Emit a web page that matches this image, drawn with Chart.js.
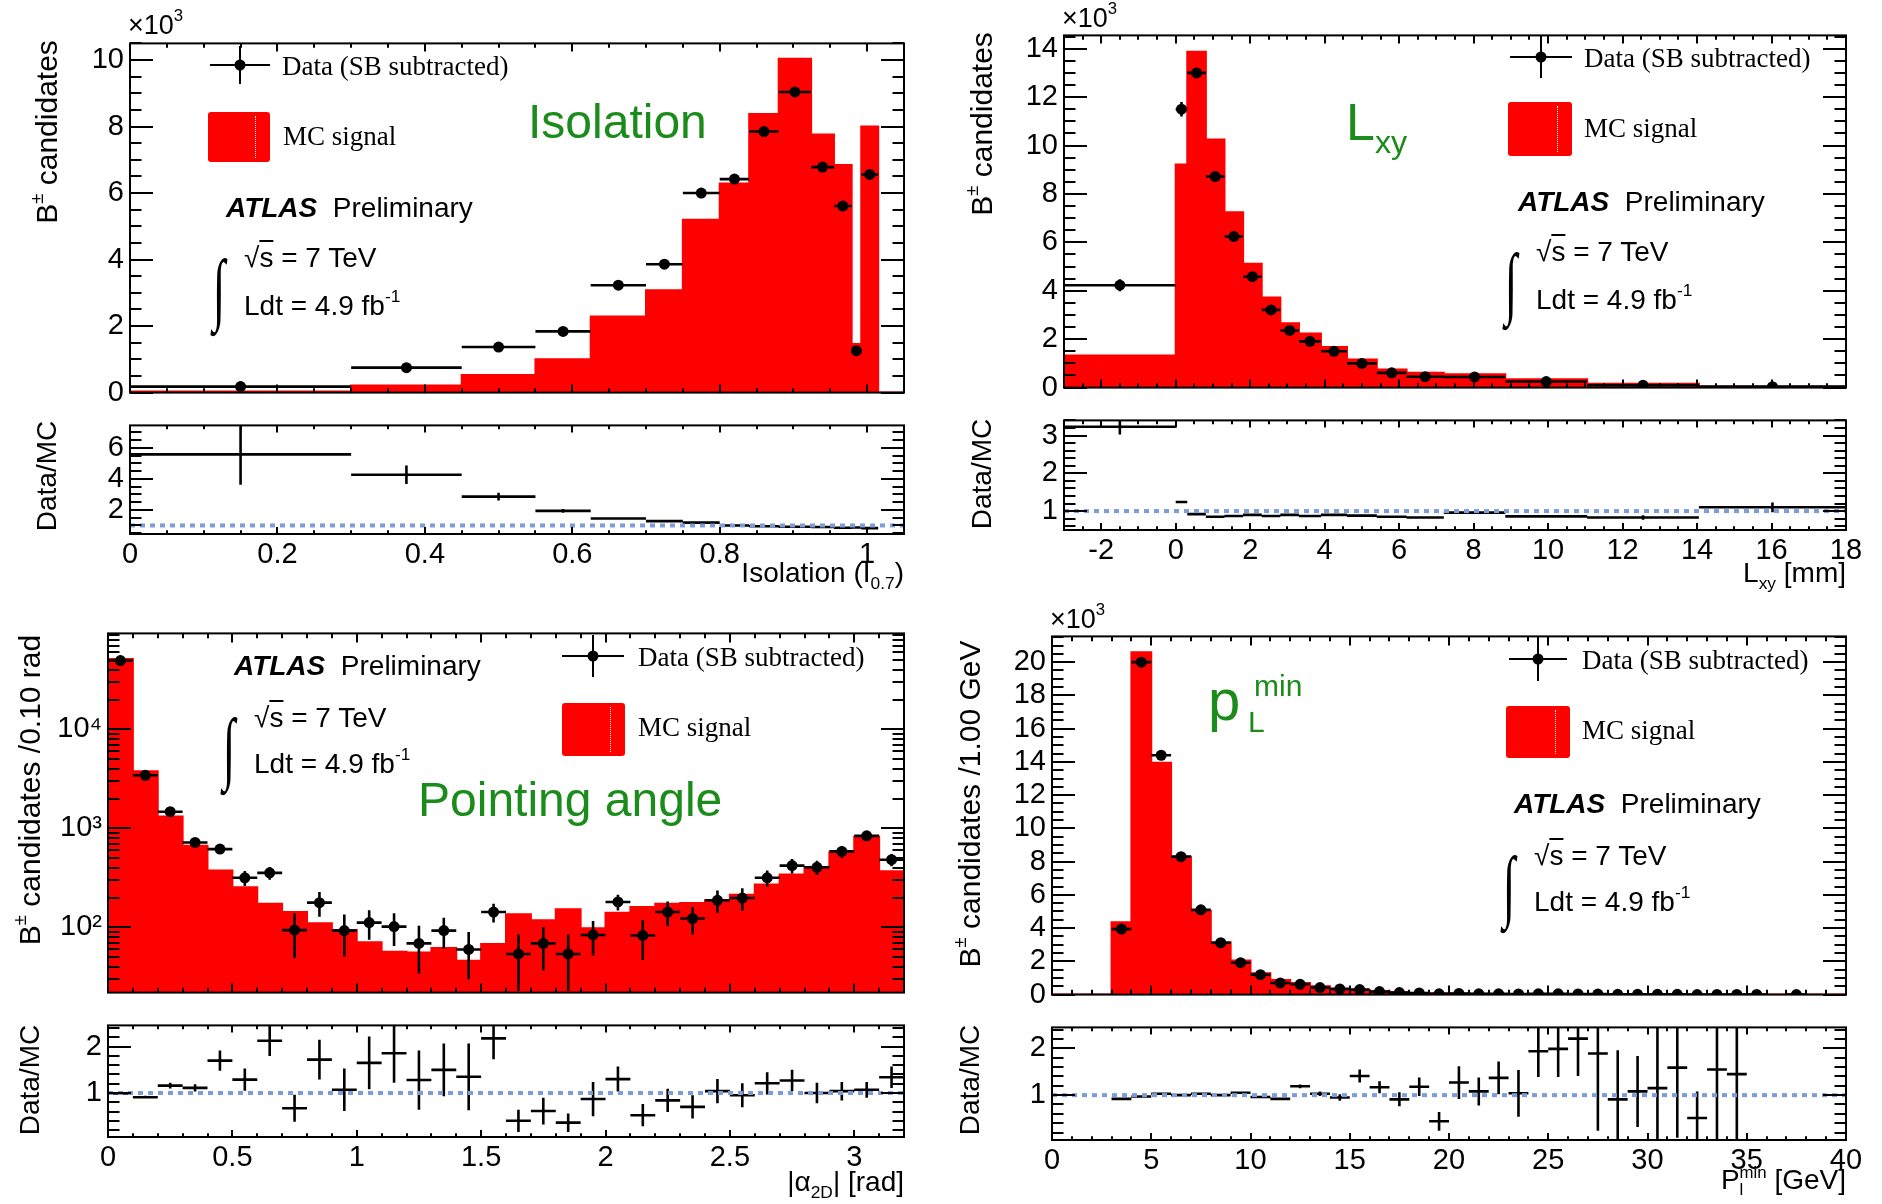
<!DOCTYPE html>
<html>
<head>
<meta charset="utf-8">
<title>B+ candidates - isolation, Lxy, pointing angle, pL min</title>
<script src="https://cdn.jsdelivr.net/npm/chart.js@4.4.1/dist/chart.umd.min.js"></script>
<style>
  html, body { margin: 0; padding: 0; background: #fff; }
  #page { position: relative; width: 1882px; height: 1204px; overflow: hidden; font-family: "Liberation Sans", Arial, sans-serif; }
  #page canvas { position: absolute; }
  .t { position: absolute; white-space: nowrap; line-height: 1; color: #000; transform: translateY(-50%); }
  .t.r { transform: translate(-100%, -50%); }
  .t.rot { transform: translate(-50%, -50%) rotate(-90deg); }
  .serif { font-family: "Liberation Serif", "Times New Roman", serif; }
  .green { color: #1b8c1b; }
  sup { font-size: 0.62em; vertical-align: 0.75em; line-height: 0; }
  sub { font-size: 0.62em; vertical-align: -0.4em; line-height: 0; }
  .ss { display: inline-flex; flex-direction: column; font-size: 0.6em; line-height: 1; vertical-align: middle; }
  .box { position: absolute; background: #ff0000; border-radius: 3px; }
  .box::after { content: ""; position: absolute; top: 4px; bottom: 4px; right: 22%; border-left: 1px dotted #fff; }
  .bar { position: absolute; background: #000; }
  .dot { position: absolute; width: 11px; height: 11px; border-radius: 50%; background: #000; transform: translate(-50%, -50%); }
</style>
</head>
<body>
<div id="page"></div>
<script>
// ---- Isolation (values in units of 10^3)
const isoEdges = [0, 0.30, 0.45, 0.55, 0.625, 0.70, 0.75, 0.80, 0.84, 0.88, 0.924, 0.955, 0.979, 0.992, 1.015, 1.05];
const isoMC = [0.03, 0.21, 0.53, 1.0, 2.29, 3.08, 5.2, 6.29, 8.38, 10.04, 7.76, 6.84, 1.46, 8.0, 0];
const isoData = [0.18, 0.75, 1.37, 1.84, 3.23, 3.86, 6.0, 6.42, 7.85, 9.04, 6.78, 5.61, 1.26, 6.56];
const isoDataErr = [0.05, 0.07, 0.08, 0.09, 0.1, 0.1, 0.1, 0.1, 0.11, 0.11, 0.1, 0.1, 0.06, 0.1];
const isoRatio = [5.58, 4.27, 2.86, 1.94, 1.45, 1.28, 1.18, 1.0, 0.95, 0.92, 0.9, 0.85, 0.87, 0.83];
const isoRatioErr = [1.95, 0.6, 0.25, 0.12, 0.06, 0.05, 0.04, 0.03, 0.03, 0.03, 0.03, 0.03, 0.05, 0.03];

// ---- Lxy [mm] (values in units of 10^3)
const lxyEdges = [-3, 0, 0.31, 0.81, 1.31, 1.81, 2.31, 2.81, 3.31, 3.9, 4.6, 5.4, 6.2, 7.2, 8.85, 11.05, 14.05, 18];
const lxyMC = [1.33, 9.22, 13.87, 10.25, 7.24, 5.12, 3.72, 2.66, 2.23, 1.68, 1.16, 0.75, 0.61, 0.55, 0.34, 0.16, 0.04];
const lxyData = [4.23, 11.5, 13.0, 8.72, 6.24, 4.58, 3.21, 2.36, 1.91, 1.5, 1.0, 0.61, 0.45, 0.44, 0.25, 0.10, 0.04];
const lxyDataErr = [0.25, 0.3, 0.15, 0.12, 0.1, 0.1, 0.08, 0.07, 0.06, 0.05, 0.05, 0.04, 0.04, 0.03, 0.03, 0.02, 0.02];
const lxyRatio = [3.23, 1.24, 0.92, 0.85, 0.87, 0.9, 0.87, 0.9, 0.87, 0.9, 0.88, 0.85, 0.83, 0.96, 0.86, 0.83, 1.1];
const lxyRatioErr = [0.2, 0.02, 0.02, 0.01, 0.01, 0.01, 0.01, 0.01, 0.01, 0.01, 0.01, 0.02, 0.02, 0.02, 0.03, 0.06, 0.13];

// ---- Pointing angle |alpha_2D| [rad] (candidates / 0.10 rad)
const angEdges = [0, 0.1, 0.2, 0.3, 0.4, 0.5, 0.6, 0.7, 0.8, 0.9, 1.0, 1.1, 1.2, 1.3, 1.4, 1.5, 1.6,
                  1.7, 1.8, 1.9, 2.0, 2.1, 2.2, 2.3, 2.4, 2.5, 2.6, 2.7, 2.8, 2.9, 3.0, 3.1, 3.2];
const angMC = [51400, 3770, 1315, 668, 375, 255, 174, 143, 110, 94, 71, 57, 56, 62, 46, 68,
               136, 118, 153, 98, 141, 161, 174, 177, 188, 214, 272, 342, 405, 573, 822, 370];
const angData = [49500, 3435, 1475, 721, 618, 317, 356, 94, 178, 93, 112, 102, 69, 93, 60, 143,
                 54, 69, 54, 84, 181, 83, 143, 123, 188, 198, 317, 421, 405, 586, 841, 483];
const angDataErr = [400, 110, 70, 50, 50, 55, 52, 45, 50, 42, 37, 37, 35, 32, 30, 31,
                    31, 32, 31, 32, 33, 36, 40, 38, 48, 51, 58, 70, 67, 80, 80, 67];
const angRatio = [0.99, 0.91, 1.16, 1.11, 1.70, 1.29, 2.13, 0.67, 1.72, 1.07, 1.65, 1.86, 1.28, 1.50, 1.35, 2.18,
                  0.40, 0.61, 0.36, 0.87, 1.30, 0.52, 0.84, 0.70, 1.04, 0.95, 1.21, 1.27, 1.0, 1.04, 1.07, 1.34];
const angRatioErr = [0.01, 0.03, 0.06, 0.08, 0.22, 0.24, 0.33, 0.29, 0.43, 0.46, 0.57, 0.64, 0.64, 0.57, 0.72, 0.45,
                     0.24, 0.29, 0.2, 0.37, 0.27, 0.24, 0.25, 0.25, 0.26, 0.26, 0.24, 0.23, 0.22, 0.2, 0.17, 0.23];

// ---- pL min [GeV] (values in units of 10^3 / 1.00 GeV)
const plEdges = [0, 3, 4, 5, 6, 7, 8, 9, 10, 11, 12, 13, 14, 15, 16, 17, 18, 19, 20, 21, 22, 23, 24,
                 25, 26, 27, 28, 29, 30, 31, 32, 33, 34, 35, 36, 40];
const plMC = [0, 4.35, 20.6, 13.95, 8.3, 5.03, 3.15, 2.05, 1.28, 0.88, 0.70, 0.50, 0.36, 0.28, 0.20, 0.14,
              0.10, 0.08, 0.06, 0.05, 0.04, 0.035, 0.03, 0.025, 0.02, 0.018, 0.015, 0.012, 0.01, 0.009,
              0.008, 0.007, 0.006, 0.005, 0.003];
const plDataX = [3.5, 4.5, 5.5, 6.5, 7.5, 8.5, 9.5, 10.5, 11.5, 12.5, 13.5, 14.5, 15.5, 16.5, 17.5, 18.5, 19.5,
                 20.5, 21.5, 22.5, 23.5, 24.5, 25.5, 26.5, 27.5, 28.5, 29.5, 30.5, 31.5, 32.5, 33.5, 34.5, 35.5, 37.5];
const plData = [3.94, 20.0, 14.4, 8.3, 5.1, 3.12, 1.92, 1.2, 0.7, 0.62, 0.42, 0.34, 0.3, 0.18, 0.12, 0.1, 0.05,
                0.07, 0.05, 0.05, 0.04, 0.05, 0.05, 0.04, 0.03, 0.02, 0.02, 0.02, 0.015, 0.005, 0.01, 0.01, 0.008, 0.005];
const plDataErr = [0.1, 0.18, 0.15, 0.12, 0.1, 0.08, 0.06, 0.05, 0.04, 0.04, 0.03, 0.03, 0.03, 0.02, 0.02, 0.02, 0.02,
                   0.02, 0.02, 0.02, 0.02, 0.02, 0.02, 0.02, 0.02, 0.02, 0.02, 0.02, 0.02, 0.02, 0.02, 0.02, 0.02, 0.02];
const plRatioX = plDataX.slice(0, 32);
const plRatio = [0.92, 0.97, 1.03, 1.0, 1.03, 1.0, 1.05, 0.96, 0.92, 1.19, 1.03, 0.95, 1.41, 1.17, 0.91, 1.18,
                 0.44, 1.27, 1.08, 1.37, 1.04, 1.94, 1.99, 2.21, 1.89, 0.91, 1.08, 1.15, 1.59, 0.51, 1.55, 1.45];
const plRatioErr = [0.02, 0.01, 0.01, 0.01, 0.01, 0.01, 0.02, 0.02, 0.03, 0.04, 0.05, 0.07, 0.14, 0.13, 0.15, 0.2,
                    0.2, 0.35, 0.3, 0.35, 0.5, 0.55, 0.6, 0.8, 1.65, 1.05, 0.76, 1.5, 1.5, 0.57, 1.6, 1.5];

// ---------------------------------------------------------------------------
const page = document.getElementById('page');
// canvas margins around each frame; large enough that Chart.js does not pad the plot area further
const ML = 110, MR = 26, MT = 22, MB_MAIN = 22, MB_RATIO = 50;
const RED = '#ff0000', DOTBLUE = '#7d9dd9';
const TICK_FONT = { size: 29 };
Chart.defaults.font.family = '"Liberation Sans", Arial, sans-serif';
Chart.defaults.color = '#000';

// ROOT-like frame with inward ticks on all four sides
function linTicks(min, max, step, sub) {
  const out = [], m = step / sub;
  for (let k = Math.ceil(min / m - 1e-9); k * m <= max + 1e-9; k++) out.push([k * m, k % sub === 0]);
  return out;
}
function logTicks(min, max) {
  const out = [];
  for (let d = Math.floor(Math.log10(min)); d <= Math.ceil(Math.log10(max)); d++) {
    for (let m = 1; m < 10; m++) {
      const v = m * Math.pow(10, d);
      if (v >= min && v <= max) out.push([v, m === 1]);
    }
  }
  return out;
}
const rootAxes = {
  id: 'rootAxes',
  afterDraw(chart, args, o) {
    const { ctx, chartArea: a } = chart;
    const sx = chart.scales.x, sy = chart.scales.y;
    ctx.save();
    ctx.strokeStyle = '#000';
    ctx.lineWidth = 2;
    ctx.beginPath();
    for (const [v, major] of linTicks(sx.min, sx.max, o.xStep, o.xSub)) {
      const p = Math.round(sx.getPixelForValue(v));
      const len = major ? o.xLen : o.xLen * 0.55;
      ctx.moveTo(p, a.bottom); ctx.lineTo(p, a.bottom - len);
      ctx.moveTo(p, a.top); ctx.lineTo(p, a.top + len);
    }
    const yt = o.log ? logTicks(sy.min, sy.max) : linTicks(sy.min, sy.max, o.yStep, o.ySub);
    for (const [v, major] of yt) {
      const p = Math.round(sy.getPixelForValue(v));
      const len = major ? o.yLen : o.yLen * 0.5;
      ctx.moveTo(a.left, p); ctx.lineTo(a.left + len, p);
      ctx.moveTo(a.right, p); ctx.lineTo(a.right - len, p);
    }
    ctx.stroke();
    ctx.strokeRect(a.left, a.top, a.right - a.left, a.bottom - a.top);
    ctx.restore();
  }
};

// histogram outline: value i is held from edge i to edge i+1
function histPoints(edges, vals) {
  const pts = vals.map((v, i) => ({ x: edges[i], y: v }));
  pts.push({ x: edges[edges.length - 1], y: vals[vals.length - 1] });
  return pts;
}
function centers(edges, n) { return edges.slice(0, n).map((e, i) => (e + edges[i + 1]) / 2); }
function halves(edges, n) { return edges.slice(0, n).map((e, i) => (edges[i + 1] - e) / 2); }
function errBars(xs, hw, ys, ye) {
  const out = [];
  xs.forEach((x, i) => {
    out.push({ x: x - hw[i], y: ys[i] }, { x: x + hw[i], y: ys[i] }, { x: x, y: null });
    if (ye[i] > 0) out.push({ x: x, y: ys[i] - ye[i] }, { x: x, y: ys[i] + ye[i] }, { x: x, y: null });
  });
  return out;
}
const fmt = v => String(+Number(v).toFixed(2));

function makeCanvas(f, mb) {
  const c = document.createElement('canvas');
  const w = f.r - f.l + ML + MR, h = f.b - f.t + MT + mb;
  c.width = w; c.height = h;
  c.style.left = (f.l - ML) + 'px'; c.style.top = (f.t - MT) + 'px';
  c.style.width = w + 'px'; c.style.height = h + 'px';
  page.appendChild(c);
  return c;
}

const sup = { 2: '\u00b2', 3: '\u00b3', 4: '\u2074', 5: '\u2075' };
function drawPanel(f, cfg) {
  const mb = cfg.xLabels ? MB_RATIO : MB_MAIN;
  const canvas = makeCanvas(f, mb);
  const yTicks = { stepSize: cfg.yStep, includeBounds: false, autoSkip: false, padding: 6, font: TICK_FONT, color: '#000', callback: fmt };
  if (cfg.log) {
    yTicks.callback = v => {
      const l = Math.log10(v);
      return Math.abs(l - Math.round(l)) < 1e-9 ? '10' + sup[Math.round(l)] : '';
    };
  }
  return new Chart(canvas, {
    type: 'line',
    data: { datasets: cfg.datasets },
    options: {
      responsive: false, animation: false, devicePixelRatio: 1,
      layout: { padding: { left: 0, top: MT, right: MR, bottom: 0 } },
      plugins: { legend: { display: false }, tooltip: { enabled: false }, rootAxes: cfg.axes },
      scales: {
        x: {
          type: 'linear', min: cfg.xMin, max: cfg.xMax,
          grid: { display: false, drawTicks: false }, border: { display: false },
          ticks: { display: !!cfg.xLabels, stepSize: cfg.xStep, includeBounds: false, autoSkip: false, maxRotation: 0, padding: 4, font: TICK_FONT, color: '#000', callback: fmt },
          afterFit: s => { s.height = mb; }
        },
        y: {
          type: cfg.log ? 'logarithmic' : 'linear', min: cfg.yMin, max: cfg.yMax,
          grid: { display: false, drawTicks: false }, border: { display: false },
          ticks: yTicks,
          afterFit: s => { s.width = ML; }
        }
      }
    },
    plugins: [rootAxes]
  });
}

function mainSets(edges, mc, xs, hw, ys, ye) {
  return [
    { data: xs.map((x, i) => ({ x: x, y: ys[i] })), showLine: false, pointRadius: 5.5, pointBackgroundColor: '#000', pointBorderWidth: 0, order: 1 },
    { data: errBars(xs, hw, ys, ye), borderColor: '#000', borderWidth: 2.6, pointRadius: 0, spanGaps: false, order: 2 },
    { data: histPoints(edges, mc), stepped: 'before', borderColor: RED, borderWidth: 2, backgroundColor: RED, fill: 'start', pointRadius: 0, order: 3 }
  ];
}
function ratioSets(xMin, xMax, xs, hw, ys, ye) {
  return [
    { data: [{ x: xMin, y: 1 }, { x: xMax, y: 1 }], borderColor: DOTBLUE, borderWidth: 4, borderDash: [5, 5], pointRadius: 0, order: 1 },
    { data: errBars(xs, hw, ys, ye), borderColor: '#000', borderWidth: 2.6, pointRadius: 0, spanGaps: false, order: 2 }
  ];
}

// ---- panel frames (page pixels)
const F = {
  isoMain: { l: 130, t: 42, r: 904, b: 394 },   isoRatio: { l: 130, t: 424, r: 904, b: 534 },
  lxyMain: { l: 1064, t: 34, r: 1846, b: 389 }, lxyRatio: { l: 1064, t: 419, r: 1846, b: 530 },
  angMain: { l: 108, t: 632, r: 904, b: 994 },  angRatio: { l: 108, t: 1024, r: 904, b: 1137 },
  plMain: { l: 1052, t: 635, r: 1846, b: 996 }, plRatio: { l: 1052, t: 1026, r: 1846, b: 1140 }
};

// Isolation
const isoX = centers(isoEdges, isoData.length), isoHW = halves(isoEdges, isoData.length);
drawPanel(F.isoMain, {
  xMin: 0, xMax: 1.05, xStep: 0.2, yMin: 0, yMax: 10.5, yStep: 2,
  axes: { xStep: 0.2, xSub: 4, xLen: 8, yStep: 2, ySub: 4, yLen: 23 },
  datasets: mainSets(isoEdges, isoMC, isoX, isoHW, isoData, isoDataErr)
});
drawPanel(F.isoRatio, {
  xLabels: true, xMin: 0, xMax: 1.05, xStep: 0.2, yMin: 0.45, yMax: 7.45, yStep: 2,
  axes: { xStep: 0.2, xSub: 4, xLen: 7, yStep: 2, ySub: 4, yLen: 23 },
  datasets: ratioSets(0, 1.05, isoX, isoHW, isoRatio, isoRatioErr)
});

// Lxy
const lxyX = centers(lxyEdges, lxyData.length), lxyHW = halves(lxyEdges, lxyData.length);
drawPanel(F.lxyMain, {
  xMin: -3, xMax: 18, xStep: 2, yMin: 0, yMax: 14.55, yStep: 2,
  axes: { xStep: 2, xSub: 4, xLen: 8, yStep: 2, ySub: 4, yLen: 23 },
  datasets: mainSets(lxyEdges, lxyMC, lxyX, lxyHW, lxyData, lxyDataErr)
});
drawPanel(F.lxyRatio, {
  xLabels: true, xMin: -3, xMax: 18, xStep: 2, yMin: 0.5, yMax: 3.4, yStep: 1,
  axes: { xStep: 2, xSub: 4, xLen: 7, yStep: 1, ySub: 5, yLen: 23 },
  datasets: ratioSets(-3, 18, lxyX, lxyHW, lxyRatio, lxyRatioErr)
});

// Pointing angle
const angX = centers(angEdges, angData.length), angHW = halves(angEdges, angData.length);
drawPanel(F.angMain, {
  log: true, xMin: 0, xMax: 3.2, xStep: 0.5, yMin: 22, yMax: 93000,
  axes: { log: true, xStep: 0.5, xSub: 5, xLen: 9, yLen: 23 },
  datasets: mainSets(angEdges, angMC, angX, angHW, angData, angDataErr)
});
drawPanel(F.angRatio, {
  xLabels: true, xMin: 0, xMax: 3.2, xStep: 0.5, yMin: 0.05, yMax: 2.46, yStep: 1,
  axes: { xStep: 0.5, xSub: 5, xLen: 7, yStep: 1, ySub: 5, yLen: 23 },
  datasets: ratioSets(0, 3.2, angX, angHW, angRatio, angRatioErr)
});

// pL min
drawPanel(F.plMain, {
  xMin: 0, xMax: 40, xStep: 5, yMin: 0, yMax: 21.55, yStep: 2,
  axes: { xStep: 5, xSub: 5, xLen: 9, yStep: 2, ySub: 4, yLen: 23 },
  datasets: mainSets(plEdges, plMC, plDataX, plDataX.map(() => 0.5), plData, plDataErr)
});
drawPanel(F.plRatio, {
  xLabels: true, xMin: 0, xMax: 40, xStep: 5, yMin: 0.04, yMax: 2.45, yStep: 1,
  axes: { xStep: 5, xSub: 5, xLen: 7, yStep: 1, ySub: 5, yLen: 23 },
  datasets: ratioSets(0, 40, plRatioX, plRatioX.map(() => 0.5), plRatio, plRatioErr)
});

// ---- text and legends
function txt(html, x, y, size, cls, extra) {
  const d = document.createElement('div');
  d.className = 't ' + (cls || '');
  d.style.left = x + 'px'; d.style.top = y + 'px'; d.style.fontSize = size + 'px';
  if (extra) d.style.cssText += extra;
  d.innerHTML = html;
  page.appendChild(d);
}
function el(cls, x, y, w, h) {
  const d = document.createElement('div');
  d.className = cls;
  d.style.left = x + 'px'; d.style.top = y + 'px';
  if (w !== undefined) { d.style.width = w + 'px'; d.style.height = h + 'px'; }
  page.appendChild(d);
}
function dataKey(cx, cy, hw, hh) {
  el('bar', cx - hw, cy - 1.3, 2 * hw, 2.6);
  el('bar', cx - 1.3, cy - hh, 2.6, 2 * hh);
  el('dot', cx, cy);
}
function atlasBlock(x, y) {
  txt('<b><i>ATLAS</i></b>&nbsp; Preliminary', x, y, 28);
}
function lumiBlock(x, y1, y2) {
  txt('\u221a<span style="text-decoration:overline">s</span> = 7 TeV', x + 18, y1, 28);
  txt('Ldt = 4.9 fb<sup>-1</sup>', x + 18, y2, 28);
  txt('\u222b', x - 14, (y1 + y2) / 2 + 6, 50, 'serif', 'transform:translateY(-50%) scale(0.9,1.6);');
}

// Isolation panel
txt('\u00d710<sup>3</sup>', 128, 25, 27);
txt('B<sup>\u00b1</sup> candidates', 47, 132, 30, 'rot');
txt('Data/MC', 47, 476, 28, 'rot');
txt('Isolation (I<sub>0.7</sub>)', 904, 573, 28, 'r');
dataKey(240, 65, 30, 19);
txt('Data (SB subtracted)', 282, 66, 27, 'serif');
el('box', 208, 112, 62, 50);
txt('MC signal', 283, 136, 27, 'serif');
atlasBlock(226, 208);
lumiBlock(226, 258, 306);
txt('Isolation', 528, 122, 48, 'green');

// Lxy panel
txt('\u00d710<sup>3</sup>', 1062, 18, 27);
txt('B<sup>\u00b1</sup> candidates', 982, 124, 30, 'rot');
txt('Data/MC', 982, 474, 28, 'rot');
txt('L<sub>xy</sub> [mm]', 1846, 573, 28, 'r');
dataKey(1541, 57, 31, 21);
txt('Data (SB subtracted)', 1584, 58, 27, 'serif');
el('box', 1508, 102, 64, 54);
txt('MC signal', 1584, 128, 27, 'serif');
atlasBlock(1518, 202);
lumiBlock(1518, 252, 300);
txt('L<sub>xy</sub>', 1346, 122, 52, 'green');

// Pointing angle panel
txt('B<sup>\u00b1</sup> candidates /0.10 rad', 30, 790, 30, 'rot');
txt('Data/MC', 30, 1080, 28, 'rot');
txt('|\u03b1<sub>2D</sub>| [rad]', 904, 1182, 28, 'r');
atlasBlock(234, 666);
lumiBlock(236, 718, 764);
dataKey(593, 656, 31, 21);
txt('Data (SB subtracted)', 638, 657, 27, 'serif');
el('box', 562, 703, 63, 53);
txt('MC signal', 638, 727, 27, 'serif');
txt('Pointing angle', 418, 800, 48, 'green');

// pL min panel
txt('\u00d710<sup>3</sup>', 1050, 619, 27);
txt('B<sup>\u00b1</sup> candidates /1.00 GeV', 970, 804, 30, 'rot');
txt('Data/MC', 970, 1080, 28, 'rot');
txt('P<span class="ss"><span>min</span><span>l</span></span> [GeV]', 1846, 1182, 28, 'r');
dataKey(1538, 659, 29, 22);
txt('Data (SB subtracted)', 1582, 660, 27, 'serif');
el('box', 1506, 706, 64, 52);
txt('MC signal', 1582, 730, 27, 'serif');
atlasBlock(1514, 804);
lumiBlock(1516, 856, 902);
txt('p', 1208, 700, 58, 'green');
txt('min', 1254, 686, 30, 'green');
txt('L', 1248, 722, 30, 'green');
</script>
</body>
</html>
